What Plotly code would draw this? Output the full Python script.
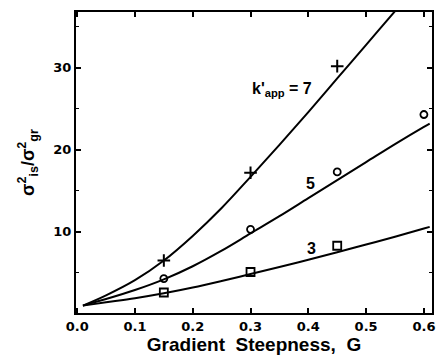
import plotly.graph_objects as go

# Fitted curves
curve_x7 = [0.01, 0.05, 0.10, 0.15, 0.20, 0.25, 0.30, 0.35, 0.40, 0.45, 0.50, 0.55, 0.56]
curve_y7 = [1.0, 2.25, 4.1, 6.5, 9.5, 12.9, 16.7, 20.6, 24.6, 28.7, 32.8, 36.9, 37.7]
curve_x5 = [0.01, 0.05, 0.10, 0.15, 0.20, 0.25, 0.30, 0.35, 0.40, 0.45, 0.50, 0.55, 0.60, 0.61]
curve_y5 = [1.0, 1.8, 2.9, 4.2, 5.8, 7.7, 9.8, 11.9, 14.1, 16.3, 18.5, 20.7, 22.8, 23.2]
curve_x3 = [0.01, 0.05, 0.10, 0.15, 0.20, 0.25, 0.30, 0.35, 0.40, 0.45, 0.50, 0.55, 0.60, 0.61]
curve_y3 = [1.0, 1.4, 1.9, 2.5, 3.2, 4.0, 4.85, 5.7, 6.6, 7.5, 8.45, 9.4, 10.4, 10.6]

# Measured points
pts_x7 = [0.15, 0.30, 0.45]
pts_y7 = [6.5, 17.2, 30.2]
pts_x5 = [0.15, 0.30, 0.45, 0.60]
pts_y5 = [4.3, 10.3, 17.3, 24.3]
pts_x3 = [0.15, 0.30, 0.45]
pts_y3 = [2.6, 5.1, 8.3]

x_ticks = [0.0, 0.1, 0.2, 0.3, 0.4, 0.5, 0.6]
x_tick_labels = ["0.0", "0.1", "0.2", "0.3", "0.4", "0.5", "0.6"]
y_ticks = [10, 20, 30]
y_tick_labels = ["10", "20", "30"]

FONT = "Liberation Sans"
TICKFONT = "DejaVu Sans"
fig = go.Figure()

for cx, cy in [(curve_x7, curve_y7), (curve_x5, curve_y5), (curve_x3, curve_y3)]:
    fig.add_trace(go.Scatter(x=cx, y=cy, mode="lines", line=dict(color="black", width=2, shape="spline"),
                             showlegend=False, hoverinfo="skip"))

fig.add_trace(go.Scatter(x=pts_x7, y=pts_y7, mode="markers",
                         marker=dict(symbol="cross-thin", size=9, line=dict(color="black", width=2)),
                         showlegend=False))
fig.add_trace(go.Scatter(x=pts_x5, y=pts_y5, mode="markers",
                         marker=dict(symbol="circle-open", size=7, color="black", line=dict(color="black", width=1.8)),
                         showlegend=False))
fig.add_trace(go.Scatter(x=pts_x3, y=pts_y3, mode="markers",
                         marker=dict(symbol="square-open", size=8, color="black", line=dict(color="black", width=1.8)),
                         showlegend=False))

labels = [(0.355, 27.3, "k'<sub>app</sub> = 7"), (0.404, 15.9, "5"), (0.405, 8.0, "3")]
for lx, ly, lt in labels:
    fig.add_annotation(x=lx, y=ly, text=lt, showarrow=False,
                       font=dict(family=FONT, size=16, color="black", weight="bold"))

axis_common = dict(showgrid=False, zeroline=False, showline=True, linecolor="black", linewidth=2,
                   mirror="ticks", ticks="inside", ticklen=5, tickwidth=1.5, tickcolor="black",
                   tickfont=dict(family=TICKFONT, size=13, color="black", weight="bold"))

fig.update_xaxes(range=[-0.002, 0.614], tickvals=x_ticks, ticktext=x_tick_labels,
                 title=dict(text="Gradient  Steepness,  G", standoff=4,
                            font=dict(family=FONT, size=19, color="black", weight="bold")),
                 **axis_common)
fig.update_yaxes(range=[0.1, 36.8], tickvals=y_ticks, ticktext=y_tick_labels,
                 minor=dict(tickvals=[5, 15, 25, 35], ticks="inside", ticklen=3, tickcolor="black", tickwidth=1),
                 title=dict(text="σ<sup>2</sup><sub>is</sub>/σ<sup>2</sup><sub>gr</sub>", standoff=14,
                            font=dict(family=FONT, size=18, color="black", weight="bold")),
                 **axis_common)

fig.update_layout(width=440, height=360, margin=dict(l=76, r=5, t=12, b=47),
                  plot_bgcolor="white", paper_bgcolor="white")

fig.write_html("out.html")
